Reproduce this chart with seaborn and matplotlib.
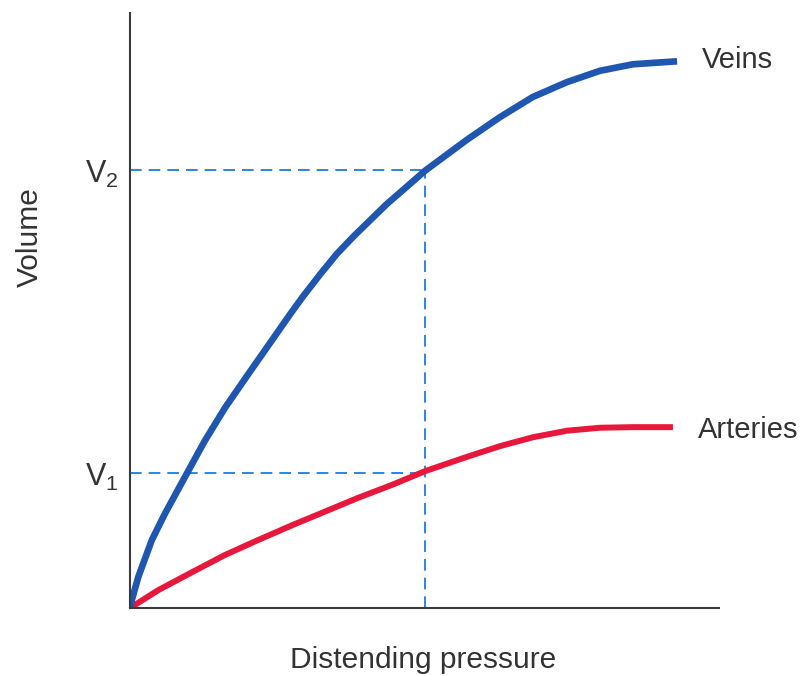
import numpy as np
import pandas as pd
import matplotlib
matplotlib.use("Agg")
import matplotlib.pyplot as plt
import seaborn as sns

# values (arbitrary units, 0-10 on both axes)
veins_pressure = [0, 0.03, 0.14, 0.37, 0.59, 0.97, 1.27, 1.61, 2.00, 2.41,
                  2.72, 2.94, 3.23, 3.51, 3.79, 4.08, 4.36, 4.64, 5.01,
                  5.72, 6.28, 6.84, 7.42, 7.98, 8.54, 9.29]
veins_volume = [0, 0.13, 0.52, 1.14, 1.58, 2.27, 2.81, 3.36, 3.92, 4.50,
                4.94, 5.24, 5.61, 5.95, 6.24, 6.52, 6.79, 7.03, 7.35,
                7.87, 8.25, 8.59, 8.84, 9.03, 9.14, 9.19]
arteries_pressure = [0, 0.48, 1.05, 1.61, 2.17, 2.75, 3.31, 3.87, 4.45,
                     5.01, 5.72, 6.28, 6.84, 7.42, 7.98, 8.54, 9.22]
arteries_volume = [0, 0.30, 0.60, 0.89, 1.14, 1.39, 1.62, 1.85, 2.07,
                   2.30, 2.54, 2.72, 2.87, 2.98, 3.03, 3.04, 3.04]
p_ref = 5.01
v1 = 2.27
v2 = 7.36

sns.set_theme(style="white")
plt.rcParams["font.family"] = ["Liberation Sans", "DejaVu Sans"]
plt.rcParams["mathtext.fontset"] = "custom"
plt.rcParams["mathtext.rm"] = "Liberation Sans"

txt = "#333333"
blue = "#1f56b0"
red = "#e8173c"
dash_col = "#2b86e0"

veins = pd.DataFrame({"pressure": veins_pressure, "volume": veins_volume})
arteries = pd.DataFrame({"pressure": arteries_pressure, "volume": arteries_volume})

fig = plt.figure(figsize=(8.1, 6.76), dpi=100)
ax = fig.add_axes([0.1605, 0.1006, 0.727, 0.880])

# dashed guide lines
ax.plot([0, p_ref], [v2, v2], color=dash_col, lw=1.4, dashes=(6, 3.6))
ax.plot([0, p_ref], [v1, v1], color=dash_col, lw=1.4, dashes=(6, 3.6))
ax.plot([p_ref, p_ref], [0, v2], color=dash_col, lw=1.4, dashes=(6, 3.6))

sns.lineplot(data=arteries, x="pressure", y="volume", sort=False, estimator=None,
             color=red, lw=4.3, ax=ax, solid_capstyle="butt", solid_joinstyle="round")
sns.lineplot(data=veins, x="pressure", y="volume", sort=False, estimator=None,
             color=blue, lw=4.8, ax=ax, solid_capstyle="butt", solid_joinstyle="round")

ax.set_xlim(0, 10)
ax.set_ylim(0, 10)
ax.set_xticks([])
ax.set_yticks([])
ax.set_xlabel("")
ax.set_ylabel("")
for s in ["top", "right"]:
    ax.spines[s].set_visible(False)
for s in ["left", "bottom"]:
    ax.spines[s].set_color("#3a3a3a")
    ax.spines[s].set_linewidth(1.5)

ax.text(9.71, 9.21, "Veins", fontsize=21, color=txt, ha="left", va="center")
ax.text(9.64, 2.99, "Arteries", fontsize=21, color=txt, ha="left", va="center")
ax.text(-0.2, v2 - 0.08, r"$\mathrm{V}_2$", fontsize=22, color=txt, ha="right", va="center")
ax.text(-0.2, v1 - 0.08, r"$\mathrm{V}_1$", fontsize=22, color=txt, ha="right", va="center")

fig.text(423 / 810, 1 - 660 / 676, "Distending pressure", fontsize=21.5,
         color=txt, ha="center", va="center")
fig.text(30 / 810, 1 - 237 / 676, "Volume", fontsize=21.5, color=txt,
         ha="center", va="center", rotation=90)

fig.savefig("out.png", dpi=100)
